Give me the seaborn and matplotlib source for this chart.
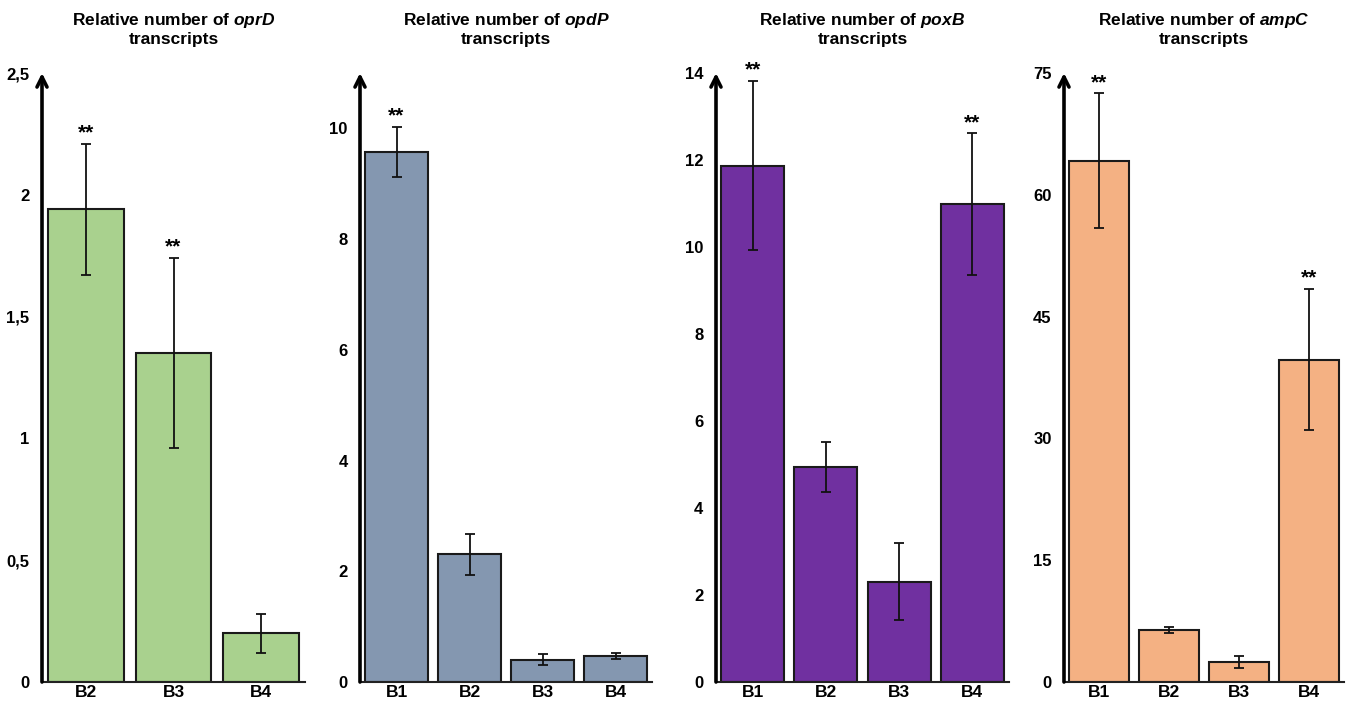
import numpy as np
import pandas as pd
import matplotlib
matplotlib.use("Agg")
import matplotlib.pyplot as plt
import seaborn as sns

# Datos (media y desviacion)
genes = ["oprD", "opdP", "poxB", "ampC"]

cats_oprD = ["B2", "B3", "B4"]
vals_oprD = [1.94, 1.35, 0.20]
err_oprD = [0.27, 0.39, 0.08]
star_oprD = [True, True, False]

cats_opdP = ["B1", "B2", "B3", "B4"]
vals_opdP = [9.58, 2.31, 0.40, 0.47]
err_opdP = [0.45, 0.37, 0.10, 0.05]
star_opdP = [True, False, False, False]

cats_poxB = ["B1", "B2", "B3", "B4"]
vals_poxB = [11.87, 4.94, 2.31, 10.98]
err_poxB = [1.95, 0.57, 0.88, 1.63]
star_poxB = [True, False, False, True]

cats_ampC = ["B1", "B2", "B3", "B4"]
vals_ampC = [64.2, 6.37, 2.5, 39.7]
err_ampC = [8.3, 0.35, 0.75, 8.7]
star_ampC = [True, False, False, True]

yticks_oprD = [0, 0.5, 1, 1.5, 2, 2.5]
ylabels_oprD = ["0", "0,5", "1", "1,5", "2", "2,5"]
yticks_opdP = [0, 2, 4, 6, 8, 10]
yticks_poxB = [0, 2, 4, 6, 8, 10, 12, 14]
yticks_ampC = [0, 15, 30, 45, 60, 75]

sns.set_style("white")
plt.rcParams["font.family"] = ["Liberation Sans", "DejaVu Sans"]
plt.rcParams["text.color"] = "black"
plt.rcParams["xtick.color"] = "black"
plt.rcParams["ytick.color"] = "black"
plt.rcParams["mathtext.fontset"] = "custom"
plt.rcParams["mathtext.bfit"] = "Liberation Sans:italic:bold"
plt.rcParams["mathtext.it"] = "Liberation Sans:italic"
plt.rcParams["mathtext.rm"] = "Liberation Sans"

paneles = [
    (cats_oprD, vals_oprD, err_oprD, star_oprD, "#A9D18E", yticks_oprD, ylabels_oprD, 2.5),
    (cats_opdP, vals_opdP, err_opdP, star_opdP, "#8497B0", yticks_opdP, None, 11),
    (cats_poxB, vals_poxB, err_poxB, star_poxB, "#7030A0", yticks_poxB, None, 14),
    (cats_ampC, vals_ampC, err_ampC, star_ampC, "#F4B183", yticks_ampC, None, 75),
]

W, H = 1349, 705
lefts = [42, 360, 716, 1064]
rights = [305, 652, 1009, 1344]
bottom_px, top_px = 682, 73

fig = plt.figure(figsize=(W / 100, H / 100), dpi=100)

for k, (cats, vals, errs, stars, color, yt, ylab, ymax) in enumerate(paneles):
    ax = fig.add_axes([lefts[k] / W, 1 - bottom_px / H,
                       (rights[k] - lefts[k]) / W, (bottom_px - top_px) / H])
    df = pd.DataFrame({"grupo": cats, "valor": vals})
    sns.barplot(data=df, x="grupo", y="valor", color=color, saturation=1,
                width=0.86, edgecolor="#1a1a1a", linewidth=1.5, ax=ax)
    x = np.arange(len(cats))
    ax.errorbar(x, vals, yerr=errs, fmt="none", ecolor="#111111",
                elinewidth=1.3, capsize=3.5, capthick=1.3)
    for i in range(len(cats)):
        if stars[i]:
            ax.annotate("**", xy=(i, vals[i] + errs[i]), xytext=(0, 1),
                        textcoords="offset points", ha="center", va="bottom",
                        fontsize=15, fontweight="bold")
    ax.set_xlim(-0.5, len(cats) - 0.5)
    ax.set_ylim(0, ymax)
    ax.set_yticks(yt)
    if ylab is not None:
        ax.set_yticklabels(ylab)
    ax.tick_params(axis="y", length=0, labelsize=12, pad=9)
    ax.tick_params(axis="x", length=0, labelsize=12.5, pad=2)
    for lab in ax.get_xticklabels() + ax.get_yticklabels():
        lab.set_fontweight("bold")
    ax.set_xlabel("")
    ax.set_ylabel("")
    for s in ["top", "right", "left"]:
        ax.spines[s].set_visible(False)
    ax.spines["bottom"].set_linewidth(1.5)
    ax.spines["bottom"].set_color("#222222")
    ax.annotate("", xy=(0, 1.0), xytext=(0, 0), xycoords="axes fraction",
                textcoords="axes fraction",
                arrowprops=dict(arrowstyle="->", lw=2.6, color="black",
                                shrinkA=0, shrinkB=0, mutation_scale=18))
    ax.set_title("Relative number of $\\mathbfit{" + genes[k] + "}$\ntranscripts",
                 fontsize=12.5, fontweight="bold", pad=21, linespacing=1.15,
                 color="black")

fig.savefig("out.png", dpi=100)
